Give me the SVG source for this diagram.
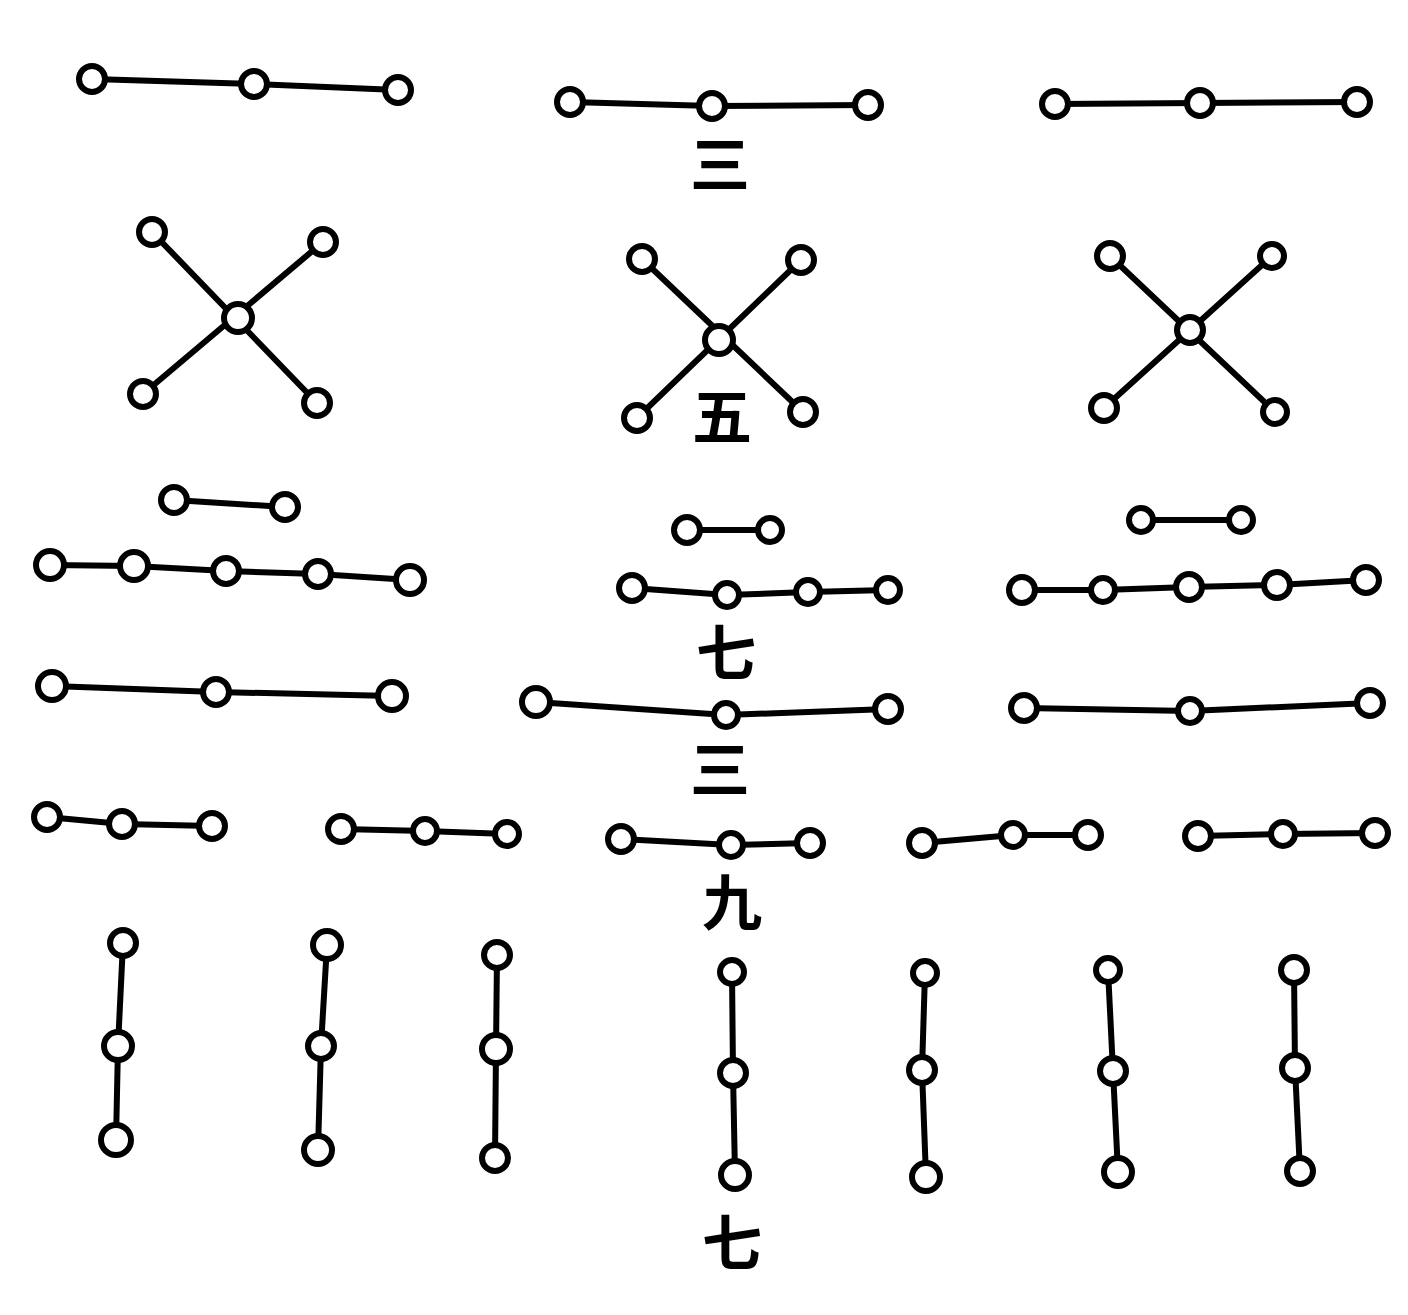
<svg xmlns="http://www.w3.org/2000/svg" width="1408" height="1315" viewBox="0 0 1408 1315">
<style>
.e{stroke:#000;stroke-width:6;fill:none;stroke-linecap:round}
.n{fill:#fff;stroke:#000;stroke-width:6}
.l{font-family:"Noto Sans CJK SC","Noto Sans CJK TC",serif;font-size:60px;font-weight:bold;fill:#000;text-anchor:middle;dominant-baseline:central}
</style>
<rect width="1408" height="1315" fill="#fff"/>
<g id="connectors">
<polyline class="e" points="92,79 254,84 398,90"/>
<polyline class="e" points="570,102 712,106 868,105"/>
<polyline class="e" points="1055,104 1200,103 1357,102"/>
<line class="e" x1="152" y1="232" x2="317" y2="403"/>
<line class="e" x1="323" y1="242" x2="143" y2="394"/>
<line class="e" x1="642" y1="259" x2="803" y2="412"/>
<line class="e" x1="801" y1="260" x2="637" y2="418"/>
<line class="e" x1="1110" y1="256" x2="1275" y2="412"/>
<line class="e" x1="1272" y1="256" x2="1104" y2="408"/>
<line class="e" x1="174" y1="500" x2="285" y2="507"/>
<polyline class="e" points="50,565 134,566 226,571 318,574 410,580"/>
<line class="e" x1="687" y1="530" x2="770" y2="530"/>
<polyline class="e" points="632,588 727,595 808,592 888,590"/>
<line class="e" x1="1141" y1="520" x2="1241" y2="520"/>
<polyline class="e" points="1022,590 1103,590 1189,587 1277,585 1366,580"/>
<polyline class="e" points="52,686 216,692 392,696"/>
<polyline class="e" points="536,702 726,715 888,709"/>
<polyline class="e" points="1024,708 1190,711 1370,703"/>
<polyline class="e" points="47,817 122,824 212,826"/>
<polyline class="e" points="341,829 425,831 507,834"/>
<polyline class="e" points="621,839 731,845 810,843"/>
<polyline class="e" points="922,843 1013,835 1088,835"/>
<polyline class="e" points="1198,836 1283,834 1375,833"/>
<polyline class="e" points="123,943 118,1046 116,1140"/>
<polyline class="e" points="327,945 321,1046 318,1150"/>
<polyline class="e" points="497,955 496,1049 495,1158"/>
<polyline class="e" points="732,972 733,1073 735,1175"/>
<polyline class="e" points="925,973 922,1070 926,1177"/>
<polyline class="e" points="1108,970 1113,1071 1118,1172"/>
<polyline class="e" points="1294,970 1295,1068 1300,1171"/>
</g>
<g id="nodes">
<g id="r1"><circle class="n" cx="92" cy="79" r="13"/><circle class="n" cx="254" cy="84" r="13"/><circle class="n" cx="398" cy="90" r="13"/><circle class="n" cx="570" cy="102" r="13"/><circle class="n" cx="712" cy="106" r="13"/><circle class="n" cx="868" cy="105" r="13"/><circle class="n" cx="1055" cy="104" r="13"/><circle class="n" cx="1200" cy="103" r="13"/><circle class="n" cx="1357" cy="102" r="13"/></g>
<g id="r2"><circle class="n" cx="238" cy="318" r="14"/><circle class="n" cx="152" cy="232" r="13"/><circle class="n" cx="323" cy="242" r="13"/><circle class="n" cx="143" cy="394" r="13"/><circle class="n" cx="317" cy="403" r="13"/><circle class="n" cx="719" cy="340" r="14"/><circle class="n" cx="642" cy="259" r="13"/><circle class="n" cx="801" cy="260" r="13"/><circle class="n" cx="637" cy="418" r="13"/><circle class="n" cx="803" cy="412" r="13"/><circle class="n" cx="1190" cy="330" r="13"/><circle class="n" cx="1110" cy="256" r="13"/><circle class="n" cx="1272" cy="256" r="12"/><circle class="n" cx="1104" cy="408" r="13"/><circle class="n" cx="1275" cy="412" r="12"/></g>
<g id="r3"><circle class="n" cx="174" cy="500" r="13"/><circle class="n" cx="285" cy="507" r="13"/><circle class="n" cx="50" cy="565" r="14"/><circle class="n" cx="134" cy="566" r="14"/><circle class="n" cx="226" cy="571" r="13"/><circle class="n" cx="318" cy="574" r="13"/><circle class="n" cx="410" cy="580" r="14"/><circle class="n" cx="687" cy="530" r="13"/><circle class="n" cx="770" cy="530" r="12"/><circle class="n" cx="632" cy="588" r="13"/><circle class="n" cx="727" cy="595" r="12"/><circle class="n" cx="808" cy="592" r="12"/><circle class="n" cx="888" cy="590" r="12"/><circle class="n" cx="1141" cy="520" r="12"/><circle class="n" cx="1241" cy="520" r="12"/><circle class="n" cx="1022" cy="590" r="13"/><circle class="n" cx="1103" cy="590" r="12"/><circle class="n" cx="1189" cy="587" r="13"/><circle class="n" cx="1277" cy="585" r="13"/><circle class="n" cx="1366" cy="580" r="13"/></g>
<g id="r4"><circle class="n" cx="52" cy="686" r="14"/><circle class="n" cx="216" cy="692" r="13"/><circle class="n" cx="392" cy="696" r="14"/><circle class="n" cx="536" cy="702" r="14"/><circle class="n" cx="726" cy="715" r="12"/><circle class="n" cx="888" cy="709" r="13"/><circle class="n" cx="1024" cy="708" r="13"/><circle class="n" cx="1190" cy="711" r="12"/><circle class="n" cx="1370" cy="703" r="13"/></g>
<g id="r5"><circle class="n" cx="47" cy="817" r="13"/><circle class="n" cx="122" cy="824" r="13"/><circle class="n" cx="212" cy="826" r="13"/><circle class="n" cx="341" cy="829" r="13"/><circle class="n" cx="425" cy="831" r="12"/><circle class="n" cx="507" cy="834" r="12"/><circle class="n" cx="621" cy="839" r="13"/><circle class="n" cx="731" cy="845" r="12"/><circle class="n" cx="810" cy="843" r="13"/><circle class="n" cx="922" cy="843" r="13"/><circle class="n" cx="1013" cy="835" r="12"/><circle class="n" cx="1088" cy="835" r="13"/><circle class="n" cx="1198" cy="836" r="13"/><circle class="n" cx="1283" cy="834" r="12"/><circle class="n" cx="1375" cy="833" r="13"/></g>
<g id="r6"><circle class="n" cx="123" cy="943" r="13"/><circle class="n" cx="118" cy="1046" r="14"/><circle class="n" cx="116" cy="1140" r="15"/><circle class="n" cx="327" cy="945" r="14"/><circle class="n" cx="321" cy="1046" r="13"/><circle class="n" cx="318" cy="1150" r="14"/><circle class="n" cx="497" cy="955" r="13"/><circle class="n" cx="496" cy="1049" r="14"/><circle class="n" cx="495" cy="1158" r="13"/><circle class="n" cx="732" cy="972" r="12"/><circle class="n" cx="733" cy="1073" r="13"/><circle class="n" cx="735" cy="1175" r="14"/><circle class="n" cx="925" cy="973" r="12"/><circle class="n" cx="922" cy="1070" r="13"/><circle class="n" cx="926" cy="1177" r="14"/><circle class="n" cx="1108" cy="970" r="12"/><circle class="n" cx="1113" cy="1071" r="13"/><circle class="n" cx="1118" cy="1172" r="14"/><circle class="n" cx="1294" cy="970" r="13"/><circle class="n" cx="1295" cy="1068" r="13"/><circle class="n" cx="1300" cy="1171" r="13"/></g>
</g>
<g id="labels">
<text class="l" x="720" y="160">三</text>
<text class="l" x="722" y="412">五</text>
<text class="l" x="726" y="648">七</text>
<text class="l" x="720" y="765">三</text>
<text class="l" x="732" y="898">九</text>
<text class="l" x="732" y="1238">七</text>
</g>
</svg>
